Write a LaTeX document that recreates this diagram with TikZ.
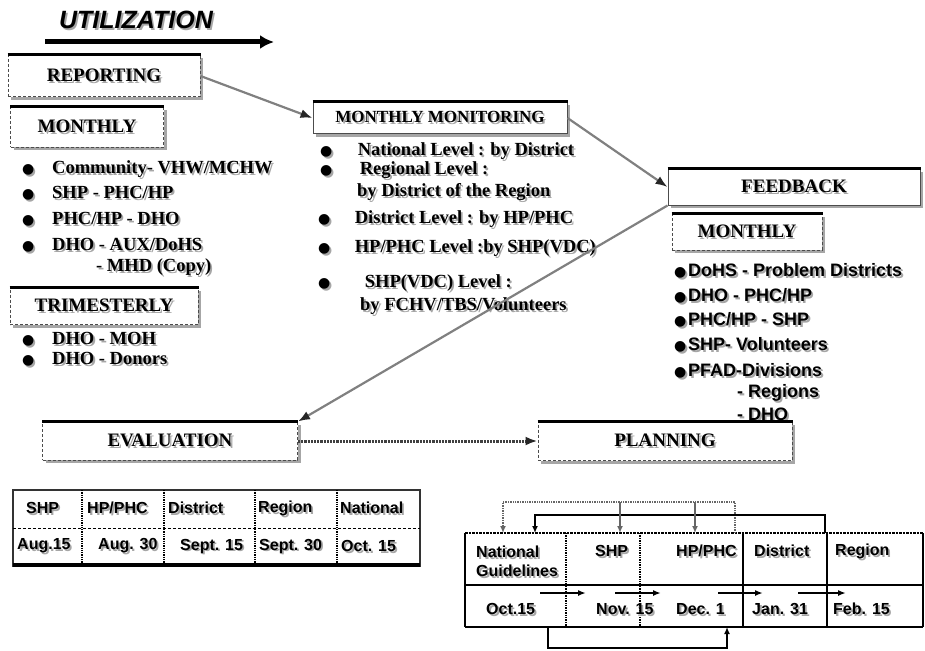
\documentclass[tikz,border=0pt]{standalone}
\usepackage{fontspec}
\setmainfont{Liberation Serif}
\setsansfont{Liberation Sans}
\newfontfamily\symfont{DejaVu Sans}
\usetikzlibrary{arrows.meta, shadows}
\newcommand{\sdw}[1]{\makebox[0pt][l]{\kern1.8pt\raisebox{-1.8pt}{\textcolor{black!35}{#1}}}#1}
\newcommand{\itm}[1][30pt]{\makebox[#1][l]{{\symfont\fontsize{14}{14}\selectfont ●}}}

\begin{document}
\begin{tikzpicture}[
  x=1pt, y=-1pt,
  stage/.style = {draw=black!70, densely dashed, line width=1pt, fill=white,
    drop shadow={shadow xshift=3pt, shadow yshift=-3pt, fill=black!35, opacity=1},
    font=\bfseries\fontsize{19}{22}\selectfont,
    append after command={(\tikzlastnode.north west) edge[solid, draw=black, line width=3pt] (\tikzlastnode.north east)}},
  bul/.style = {anchor=west, inner sep=0pt, font=\bfseries\fontsize{18.5}{20}\selectfont},
  fbul/.style = {bul, font=\sffamily\bfseries\fontsize{18}{20}\selectfont},
  cell/.style = {anchor=west, inner sep=0pt, align=left, font=\sffamily\bfseries\fontsize{16}{19}\selectfont},
  flow/.style = {draw=black!50, line width=2.2pt, -{Latex[length=12pt, width=9pt, color=black!85]}},
  tick/.style = {line width=1.6pt, -{Latex[length=8pt, width=6pt]}},
  loop/.style = {line width=1.4pt, -{Latex[length=7pt, width=6pt]}}
]
  \useasboundingbox (0,0) rectangle (925,650);

  % title
  \node[font=\sffamily\bfseries\itshape\fontsize{25}{28}\selectfont] (util) at (136,21) {\sdw{UTILIZATION}};
  \coordinate (u0) at (45,42);
  \coordinate (u1) at (274,42);
  \draw[line width=5pt, -{Latex[length=14pt, width=14pt]}] (u0) -- (u1);

  % reporting
  \node[stage, minimum width=192pt, minimum height=42pt] (rep) at (104,76) {\sdw{REPORTING}};
  \node[stage, minimum width=153pt, minimum height=40pt] (mon1) at (87,127) {\sdw{MONTHLY}};
  \node[bul] (r1) at (22,170) {\sdw{\itm Community- VHW/MCHW}};
  \node[bul] (r2) at (22,194) {\sdw{\itm SHP - PHC/HP}};
  \node[bul] (r3) at (22,220) {\sdw{\itm PHC/HP - DHO}};
  \node[bul] (r4) at (22,246) {\sdw{\itm DHO - AUX/DoHS}};
  \node[bul] (r5) at (96,268) {\sdw{- MHD (Copy)}};
  \node[stage, minimum width=188pt, minimum height=37pt] (tri) at (104,306) {\sdw{TRIMESTERLY}};
  \node[bul] (t1) at (22,340) {\sdw{\itm DHO - MOH}};
  \node[bul] (t2) at (22,360) {\sdw{\itm DHO - Donors}};

  % monitoring
  \node[stage, solid, minimum width=254pt, minimum height=31pt, font=\bfseries\fontsize{17}{19}\selectfont] (mon) at (440,118) {\sdw{MONTHLY MONITORING}};
  \node[bul] (m1) at (320,152) {\sdw{\itm[33pt] National Level : by District}};
  \node[bul] (m2) at (320,171) {\sdw{\itm[35pt] Regional Level :}};
  \node[bul] (m3) at (357,193) {\sdw{by District of the Region}};
  \node[bul] (m4) at (318,220) {\sdw{\itm[32pt] District Level : by HP/PHC}};
  \node[bul] (m5) at (318,249) {\sdw{\itm[32pt] HP/PHC  Level :by SHP(VDC)}};
  \node[bul] (m6) at (318,284) {\sdw{\itm[42pt] SHP(VDC)  Level :}};
  \node[bul] (m7) at (360,307) {\sdw{by FCHV/TBS/Volunteers}};

  % feedback
  \node[stage, solid, minimum width=252pt, minimum height=36pt] (fb) at (794,187) {\sdw{FEEDBACK}};
  \node[stage, minimum width=150pt, minimum height=36pt] (mon2) at (747,232) {\sdw{MONTHLY}};
  \node[fbul] (f1) at (674,272) {\sdw{\itm[14pt]DoHS - Problem Districts}};
  \node[fbul] (f2) at (674,297) {\sdw{\itm[14pt]DHO - PHC/HP}};
  \node[fbul] (f3) at (674,321) {\sdw{\itm[14pt]PHC/HP - SHP}};
  \node[fbul] (f4) at (674,346) {\sdw{\itm[14pt]SHP- Volunteers}};
  \node[fbul] (f5) at (674,372) {\sdw{\itm[14pt]PFAD-Divisions}};
  \node[fbul] (f6) at (737,394) {\sdw{- Regions}};
  \node[fbul] (f7) at (737,415) {\sdw{- DHO}};

  % evaluation and planning
  \node[stage, minimum width=255pt, minimum height=38pt] (eval) at (170,441) {\sdw{EVALUATION}};
  \node[stage, minimum width=254pt, minimum height=39pt] (plan) at (665,441) {\sdw{PLANNING}};

  \draw[flow] (rep.east) -- (mon.west);
  \draw[flow] (mon.east) -- (fb.west);
  \draw[flow] (fb.south west) -- (eval.north east);
  \draw[flow, draw=black!75, densely dotted, line width=3pt] (eval.east) -- (plan.west);

  % evaluation dates
  \draw[line width=1.5pt, draw=black!80] (13,490) rectangle (420,566);
  \draw[densely dashed, line width=1pt] (13,528) -- (420,528);
  \foreach \cx in {82,164,255,337}
    \draw[line width=1.3pt, densely dotted] (\cx,490) -- (\cx,566);
  \draw[line width=4pt] (13,565) -- (420,565);
  \node[cell] (e1) at (26,509) {\sdw{SHP}};
  \node[cell] (e2) at (87,509) {\sdw{HP/PHC}};
  \node[cell] (e3) at (168,509) {\sdw{District}};
  \node[cell] (e4) at (258,509) {\sdw{Region}};
  \node[cell] (e5) at (340,509) {\sdw{National}};
  \node[cell] (d1) at (17,547) {\sdw{Aug.15}};
  \node[cell] (d2) at (98,547) {\sdw{Aug. 30}};
  \node[cell] (d3) at (180,547) {\sdw{Sept. 15}};
  \node[cell] (d4) at (259,547) {\sdw{Sept. 30}};
  \node[cell] (d5) at (341,547) {\sdw{Oct. 15}};

  % planning dates
  \draw[line width=2.5pt, densely dotted] (465,533) -- (923,533);
  \draw[line width=1.8pt] (465,533) -- (465,627) (923,533) -- (923,627);
  \draw[line width=2pt] (465,585) -- (923,585);
  \draw[line width=2.5pt] (465,627) -- (923,627);
  \draw[line width=1.4pt, densely dotted] (566,533) -- (566,627) (640,533) -- (640,627);
  \draw[line width=2.2pt] (743,533) -- (743,627);
  \draw[line width=1.6pt] (827,533) -- (827,627);
  \node[cell] (p1) at (476,562) {\sdw{National}\\\sdw{Guidelines}};
  \node[cell] (p2) at (595,552) {\sdw{SHP}};
  \node[cell] (p3) at (676,552) {\sdw{HP/PHC}};
  \node[cell] (p4) at (754,552) {\sdw{District}};
  \node[cell] (p5) at (835,552) {\sdw{Region}};
  \node[cell] (q1) at (486,610) {\sdw{Oct.15}};
  \node[cell] (q2) at (596,610) {\sdw{Nov. 15}};
  \node[cell] (q3) at (676,610) {\sdw{Dec. 1}};
  \node[cell] (q4) at (752,610) {\sdw{Jan. 31}};
  \node[cell] (q5) at (833,610) {\sdw{Feb. 15}};

  \foreach \i/\xa/\xb in {1/540/586, 2/615/661, 3/718/763, 4/798/846} {
    \coordinate (a\i) at (\xa,593);
    \coordinate (b\i) at (\xb,593);
    \draw[tick] (a\i) -- (b\i);
  }

  % hand-over loops
  \coordinate (ntop) at (503,533);
  \coordinate (ntop2) at (535,533);
  \coordinate (stop) at (620,533);
  \coordinate (htop) at (695,533);
  \coordinate (dtop) at (735,533);
  \coordinate (rtop) at (825,533);
  \draw[loop, draw=black!60, densely dotted] (dtop) -- ++(0,-31) -| (ntop);
  \draw[loop] (rtop) -- ++(0,-18) -| (ntop2);
  \draw[loop, draw=black!60] (stop) ++(0,-31) -- (stop);
  \draw[loop, draw=black!60] (htop) ++(0,-31) -- (htop);
  \coordinate (obot) at (548,627);
  \coordinate (dbot) at (727,627);
  \draw[loop] (obot) -- ++(0,21) -| (dbot);
\end{tikzpicture}
\end{document}
